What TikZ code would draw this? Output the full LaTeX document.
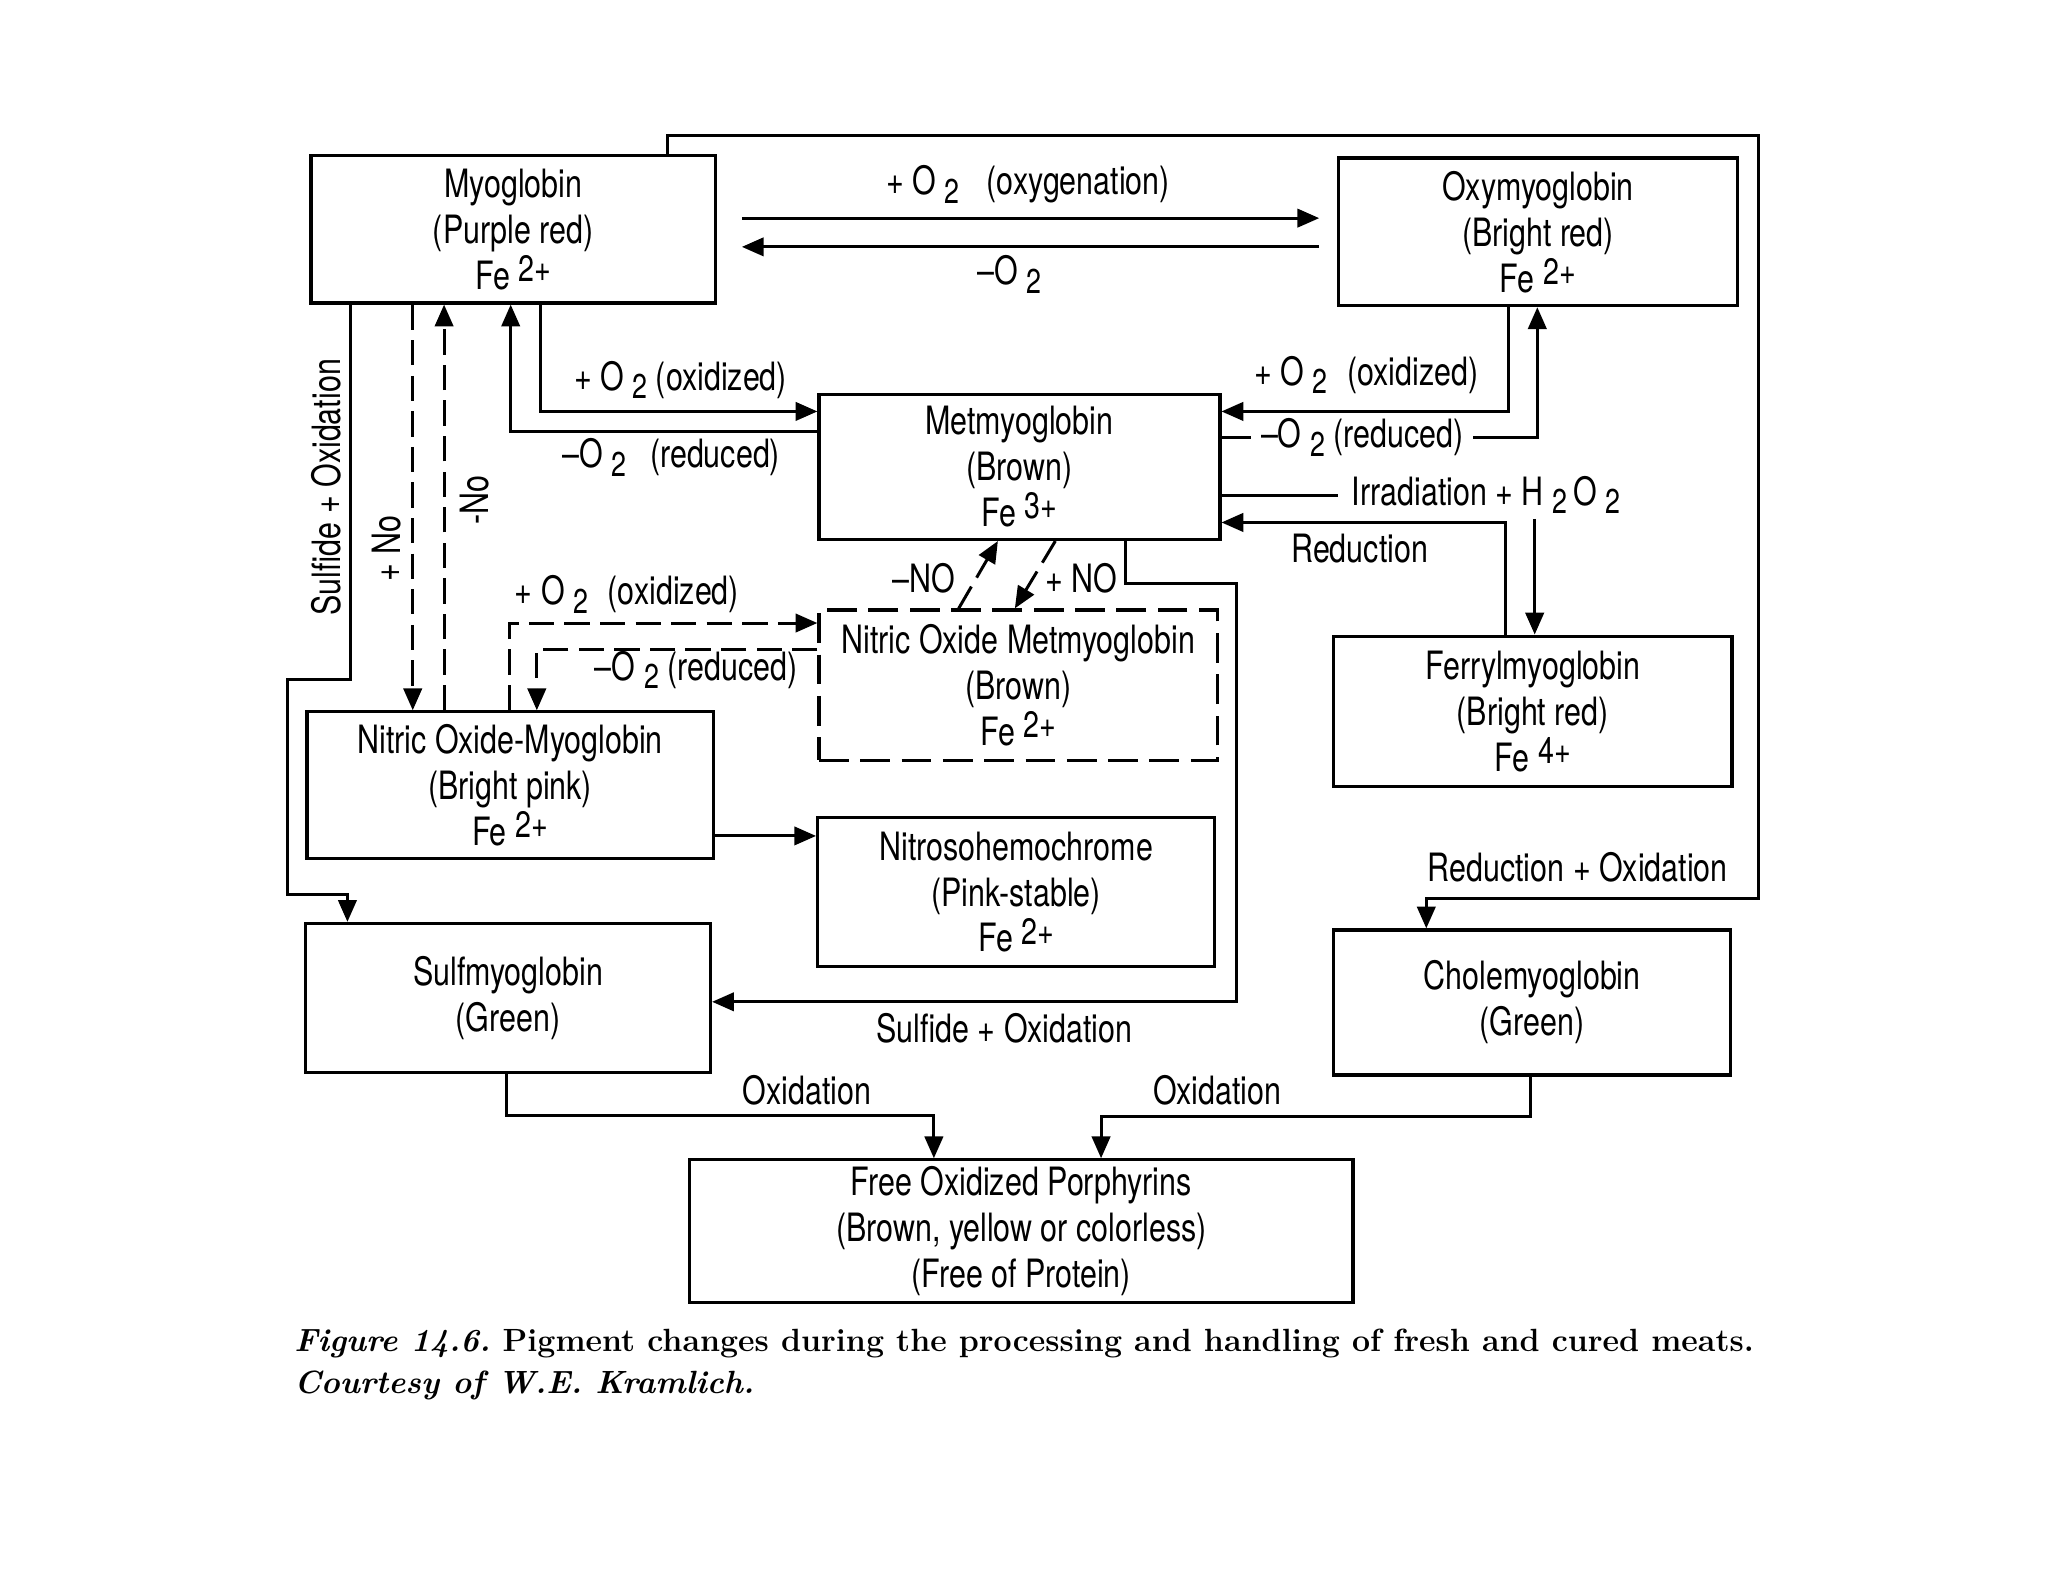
\documentclass[tikz,border=0pt]{standalone}
\usepackage{fontspec}
\newfontfamily\cond{TeX Gyre Heros}[FakeStretch=0.78]
\usetikzlibrary{arrows.meta,calc}
\newcommand{\dn}[1]{\hspace{0.22em}\raisebox{-0.22em}{\fontsize{15}{15}\selectfont #1}}
\newcommand{\up}[1]{\hspace{0.22em}\raisebox{0.2em}{\fontsize{16}{16}\selectfont #1}}
\begin{document}
\begin{tikzpicture}[x=0.02cm,y=-0.02cm,
  every node/.style={font={\cond\fontsize{17}{20}\selectfont}, inner sep=1pt},
  box/.style={draw, line width=1.4pt, align=center, inner sep=0pt},
  dbox/.style={box, dash pattern=on 13pt off 5pt},
  arr/.style={line width=1.3pt, -{Triangle[length=9.5pt,width=8pt]}},
  ln/.style={line width=1.3pt},
  dsh/.style={dash pattern=on 11pt off 4.5pt},
]
\useasboundingbox (0,0) rectangle (1568,1211);

% boxes
\node[box, minimum width=6.2cm, minimum height=2.26cm] (myo) at (393,175.5) {Myoglobin\\(Purple red)\\Fe\up{2+}};
\node[box, minimum width=6.1cm, minimum height=2.26cm] (oxy) at (1177.5,177.5) {Oxymyoglobin\\(Bright red)\\Fe\up{2+}};
\node[box, minimum width=6.14cm, minimum height=2.22cm] (met) at (780.5,357.5) {Metmyoglobin\\(Brown)\\Fe\up{3+}};
\node[dbox, minimum width=6.1cm, minimum height=2.3cm] (nomet) at (779.5,524.5) {Nitric Oxide Metmyoglobin\\(Brown)\\Fe\up{2+}};
\node[box, minimum width=6.1cm, minimum height=2.3cm] (ferryl) at (1173.5,544.5) {Ferrylmyoglobin\\(Bright red)\\Fe\up{4+}};
\node[box, minimum width=6.22cm, minimum height=2.24cm] (nomb) at (390.5,601) {Nitric Oxide-Myoglobin\\(Bright pink)\\Fe\up{2+}};
\node[box, minimum width=6.08cm, minimum height=2.28cm] (nitroso) at (778,683) {Nitrosohemochrome\\(Pink-stable)\\Fe\up{2+}};
\node[box, minimum width=6.2cm, minimum height=2.28cm] (sulf) at (389,764) {Sulfmyoglobin\\(Green)};
\node[box, minimum width=6.08cm, minimum height=2.22cm] (chole) at (1173,767.5) {Cholemyoglobin\\(Green)};
\node[box, minimum width=10.16cm, minimum height=2.18cm] (fop) at (782,942.5) {Free Oxidized Porphyrins\\(Brown, yellow or colorless)\\(Free of Protein)};

% labels
\node (t1) at (787,141) {+ O\dn{2}\hspace{0.7em}(oxygenation)};
\node (t2) at (773,210) {\textendash O\dn{2}};
\node (t3) at (521,291) {+ O\dn{2} (oxidized)};
\node (t4) at (514,350) {\textendash O\dn{2}\hspace{0.6em}(reduced)};
\node (t5) at (1046,287) {+ O\dn{2}\hspace{0.5em}(oxidized)};
\node[inner xsep=4pt] (t6) at (1043,335) {\textendash O\dn{2} (reduced)};
\node[inner xsep=6pt, inner ysep=2pt] (t7) at (1138,379) {Irradiation + H\dn{2}\,O\dn{2}};
\node (t8) at (1041,420) {Reduction};
\node (t9) at (707,443) {\textendash NO};
\node (t10) at (828,443) {+ NO};
\node[rotate=90] (t11) at (250,373) {Sulfide + Oxidation};
\node[rotate=90] (t12) at (296,420) {+ No};
\node[rotate=90] (t13) at (363,383) {-No};
\node (t14) at (480,455) {+ O\dn{2}\hspace{0.5em}(oxidized)};
\node (t15) at (533,513) {\textendash O\dn{2} (reduced)};
\node (t16) at (1208,664) {Reduction + Oxidation};
\node (t17) at (769,787) {Sulfide + Oxidation};
\node (t18) at (618,835) {Oxidation};
\node (t19) at (932,835) {Oxidation};

% free ends of the two top arrows
\coordinate (c1) at (568,167);
\coordinate (c2) at (1010,167);
\coordinate (c3) at (1010,189);
\coordinate (c4) at (568,189);

% connectors
\draw[arr] (c1) -- (c2);
\draw[arr] (c3) -- (c4);
\draw[arr] (myo.south -| 414,0) |- (met.west |- 0,315);
\draw[arr] (met.west |- 0,330) -| (myo.south -| 391,0);
\draw[arr] (oxy.south -| 1155,0) |- (met.east |- 0,315);
\draw[ln] (met.east |- t6.west) -- (t6.west);
\draw[arr] (t6.east) -| (oxy.south -| 1177,0);
\draw[ln] (met.east |- t7.west) -- (t7.west);
\draw[arr] (t7.south -| 1175,0) -- (ferryl.north -| 1175,0);
\draw[arr] (ferryl.north -| 1153,0) |- (met.east |- 0,400);
\draw[arr] (met.south -| 862,0) |- (947,447) |- (sulf.east |- 0,767);
\draw[arr, dsh] (nomet.north -| 734,0) -- (met.south -| 764,0);
\draw[arr, dsh] (met.south -| 808,0) -- (nomet.north -| 777,0);
\draw[arr, dsh] (myo.south -| 316,0) -- (nomb.north -| 316,0);
\draw[arr, dsh] (nomb.north -| 340,0) -- (myo.south -| 340,0);
\draw[arr] (myo.south -| 268,0) -- (268,520) -- (220,520) -- (220,685) -| (sulf.north -| 266,0);
\draw[arr, dsh] (nomb.north -| 390,0) |- (nomet.west |- 0,477);
\draw[arr, dsh] (nomet.west |- 0,497) -| (nomb.north -| 411,0);
\draw[arr] (nomb.east |- 0,640) -- (nitroso.west |- 0,640);
\draw[arr] (myo.north -| 511,0) |- (1346,104) |- (1092,688) -- (chole.north -| 1092,0);
\draw[arr] (sulf.south -| 388,0) |- (715,854) -- (fop.north -| 715,0);
\draw[arr] (chole.south -| 1172,0) |- (843,855) -- (fop.north -| 843,0);

% caption
\node[anchor=base west, inner sep=0pt, font={\rmfamily\bfseries\fontsize{14}{17}\selectfont}] (cap1) at (225,1035) {\itshape Figure 14.6.\upshape\ Pigment changes during the processing and handling of fresh and cured meats.};
\node[anchor=base west, inner sep=0pt, font={\rmfamily\bfseries\itshape\fontsize{14}{17}\selectfont}] (cap2) at (225,1067) {Courtesy of W.E. Kramlich.};
\end{tikzpicture}
\end{document}
